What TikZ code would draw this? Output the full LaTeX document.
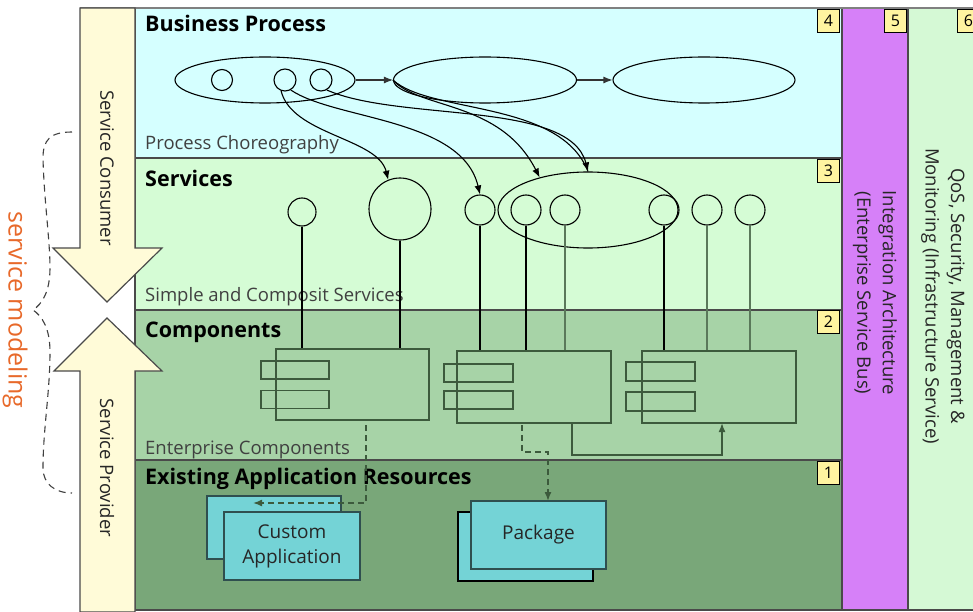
\documentclass[tikz,border=0pt]{standalone}
\usepackage{fontspec}
\setmainfont{Open Sans}
\usetikzlibrary{shapes.geometric,arrows.meta,calc}
\definecolor{bpcyan}{HTML}{D5FFFF}
\definecolor{svgreen}{HTML}{D5FCD5}
\definecolor{cpgreen}{HTML}{A7D3A7}
\definecolor{exgreen}{HTML}{79A779}
\definecolor{esbpurple}{HTML}{D680F8}
\definecolor{qosgreen}{HTML}{D5F9D5}
\definecolor{colyellow}{HTML}{FFFBD8}
\definecolor{numyellow}{HTML}{FFF4A0}
\definecolor{boxcyan}{HTML}{74D3D6}
\definecolor{boxline}{HTML}{2F4F4F}
\definecolor{compline}{HTML}{3C5A3C}
\definecolor{stemgray}{HTML}{5A785A}
\definecolor{modorange}{HTML}{E8692A}
\definecolor{layerline}{HTML}{4A4A4A}
\begin{document}
\begin{tikzpicture}[x=1pt,y=-1pt,
  layer/.style={draw=layerline,line width=1.2pt},
  numbox/.style={draw=black,fill=numyellow,line width=1pt,minimum width=22pt,minimum height=23pt,inner sep=0pt,anchor=north east,font=\fontsize{16}{16}\selectfont},
  head/.style={anchor=base west,inner sep=0pt,font=\fontsize{21.5}{24}\selectfont\bfseries},
  sub/.style={anchor=base west,inner sep=0pt,text=black!75,font=\fontsize{18.5}{22}\selectfont},
  vtext/.style={rotate=-90,inner sep=0pt,align=center,text=black!85,font=\fontsize{18.5}{25.5}\selectfont},
  circ/.style={circle,draw=black,line width=1.1pt,inner sep=0pt},
  ell/.style={ellipse,draw=black,line width=1.1pt,inner sep=0pt},
  comp/.style={rectangle,draw=compline,line width=1.6pt,inner sep=0pt},
  appbox/.style={rectangle,draw=boxline,fill=boxcyan,line width=1.3pt,inner sep=0pt,align=center,text=black!85,font=\fontsize{19}{25}\selectfont},
  arr/.style={-{Latex[length=9pt,width=7pt]},line width=1.1pt},
  stem/.style={line width=1.2pt,draw=black},
  stemlite/.style={line width=1.4pt,draw=stemgray},
  dasharr/.style={-{Latex[length=9pt,width=7pt]},line width=1.5pt,draw=compline,dash pattern=on 6pt off 4pt}
]
\useasboundingbox (0,0) rectangle (973,612);
\fill[white] (0,0) rectangle (973,612);

% layers
\draw[layer,fill=bpcyan] (135,8) rectangle (842,158);
\draw[layer,fill=svgreen] (135,158) rectangle (842,310);
\draw[layer,fill=cpgreen] (135,310) rectangle (842,460);
\draw[layer,fill=exgreen] (135,460) rectangle (842,610);
\draw[layer,fill=esbpurple] (842,8) rectangle (908,610);
\draw[layer,fill=qosgreen] (908,8) rectangle (980,610);
\draw[gray,line width=2.5pt] (80,8) -- (973,8);

% number boxes
\node[numbox] (n4) at (840,9) {4};
\node[numbox] (n3) at (840,159) {3};
\node[numbox] (n2) at (840,310) {2};
\node[numbox] (n1) at (840,461) {1};
\node[numbox] (n5) at (907,9) {5};
\node[numbox] (n6) at (980,9) {6};

% layer titles
\node[head] (tbp) at (145,32) {Business Process};
\node[sub] (tpc) at (145,150) {Process Choreography};
\node[head] (tsv) at (145,187) {Services};
\node[sub] (tsc) at (145,301) {Simple and Composit Services};
\node[head] (tcp) at (145,337) {Components};
\node[sub] (tec) at (145,454) {Enterprise Components};
\node[head] (tex) at (145,484) {Existing Application Resources};

% side columns
\node[vtext] (tesb) at (875,293) {Integration Architecture\\(Enterprise Service Bus)};
\node[vtext] (tqos) at (943,296) {QoS, Security, Management \&\\Monitoring (Infrastructure Service)};

% yellow arrows
\draw[layer,fill=colyellow] (80,8) -- (135,8) -- (135,248) -- (162,248) -- (107,302) -- (53,248) -- (80,248) -- cycle;
\draw[layer,fill=colyellow] (80,612) -- (80,371) -- (54,371) -- (107,318) -- (162,371) -- (135,371) -- (135,612) -- cycle;
\node[vtext] (tcons) at (107,168) {Service Consumer};
\node[vtext] (tprov) at (107,468) {Service Provider};

% brace and service modeling
\coordinate (brt) at (72,132);
\coordinate (brb) at (72,493);
\draw[black!75,line width=1.1pt,dash pattern=on 7pt off 5pt] (brt) .. controls (50,132) and (43,140) .. (43,158)
  .. controls (44,200) and (50,240) .. (50,268) .. controls (50,292) and (42,304) .. (33,310)
  .. controls (42,316) and (50,328) .. (50,352) .. controls (50,392) and (43,430) .. (43,468)
  .. controls (43,484) and (55,493) .. (brb);
\node[rotate=-90,inner sep=0pt,text=modorange,font=\fontsize{25}{25}\selectfont] (tmod) at (15,310) {service modeling};

% business process
\node[ell,minimum width=180pt,minimum height=46pt] (bp1) at (265,80) {};
\node[ell,minimum width=183pt,minimum height=46pt] (bp2) at (485,80) {};
\node[ell,minimum width=182pt,minimum height=46pt] (bp3) at (704,80) {};
\node[circ,minimum size=21pt] (c1) at (222,80) {};
\node[circ,minimum size=22pt] (c2) at (285,80) {};
\node[circ,minimum size=22pt] (c3) at (321,80) {};
\draw[arr,draw=black!80] (bp1.east) -- (bp2.west);
\draw[arr,draw=black!80] (bp2.east) -- (bp3.west);

% services
\node[ell,minimum width=180pt,minimum height=76pt] (sell) at (588,210) {};
\node[circ,minimum size=28pt] (s1) at (302,212) {};
\node[circ,minimum size=62pt] (s2) at (400,209) {};
\node[circ,minimum size=30pt] (s3) at (480,210) {};
\node[circ,minimum size=30pt] (s4) at (526,210) {};
\node[circ,minimum size=30pt] (s5) at (565,210) {};
\node[circ,minimum size=30pt] (s6) at (664,210) {};
\node[circ,minimum size=30pt] (s7) at (707,210) {};
\node[circ,minimum size=30pt] (s8) at (750,210) {};

% curved arrows
\draw[arr] (c2.250) .. controls (292,135) and (378,138) .. (s2.112);
\draw[arr] (c2.300) .. controls (335,120) and (462,118) .. (s3.north);
\draw[arr] (c3.300) .. controls (400,122) and (570,100) .. (sell.north);
\draw[arr] (bp2.west) .. controls (420,110) and (500,100) .. (sell.146);
\draw[line width=1.1pt] (bp2.west) .. controls (430,114) and (560,100) .. (sell.north);

% components
\node[comp,minimum width=153pt,minimum height=71pt] (k1) at (352.5,384.5) {};
\node[comp,minimum width=68pt,minimum height=18pt] (k1a) at (295,370) {};
\node[comp,minimum width=68pt,minimum height=18pt] (k1b) at (295,399.5) {};
\node[comp,minimum width=154pt,minimum height=72pt] (k2) at (534,387) {};
\node[comp,minimum width=69pt,minimum height=18pt] (k2a) at (478.5,373) {};
\node[comp,minimum width=69pt,minimum height=18pt] (k2b) at (478.5,400) {};
\node[comp,minimum width=154pt,minimum height=72pt] (k3) at (719,387) {};
\node[comp,minimum width=69pt,minimum height=19pt] (k3a) at (660.5,371.5) {};
\node[comp,minimum width=69pt,minimum height=19pt] (k3b) at (660.5,401.5) {};

% stems
\draw[stem] (s1) -- (s1 |- k1.north);
\draw[stem] (s2) -- (s2 |- k1.north);
\draw[stem] (s3) -- (s3 |- k2.north);
\draw[stem] (s4) -- (s4 |- k2.north);
\draw[stemlite] (s5) -- (s5 |- k2.north);
\draw[stem] (s6) -- (s6 |- k3.north);
\draw[stemlite] (s7) -- (s7 |- k3.north);
\draw[stemlite] (s8) -- (s8 |- k3.north);

% existing application resources
\node[appbox,minimum width=134pt,minimum height=63pt] (cab) at (274,527.5) {};
\node[appbox,minimum width=136pt,minimum height=68pt] (caf) at (292,546) {Custom\\Application};
\node[appbox,draw=black,minimum width=135pt,minimum height=69pt] (pkb) at (525.5,546.5) {};
\node[appbox,minimum width=135pt,minimum height=68pt] (pkf) at (538.5,535) {Package};

% component connectors
\coordinate (k2o) at (572,423);
\coordinate (k3i) at (722,423);
\draw[arr,draw=compline,line width=1.6pt] (k2o) -- ++(0,32) -| (k3i);
\coordinate (k1o) at (366,425);
\coordinate (cain) at (253,503);
\draw[dasharr] (k1o) |- (cain);
\coordinate (k2d) at (522,425);
\coordinate (pkin) at (548,501);
\draw[dasharr] (k2d) -- ++(0,27) -| (pkin);
\end{tikzpicture}
\end{document}
